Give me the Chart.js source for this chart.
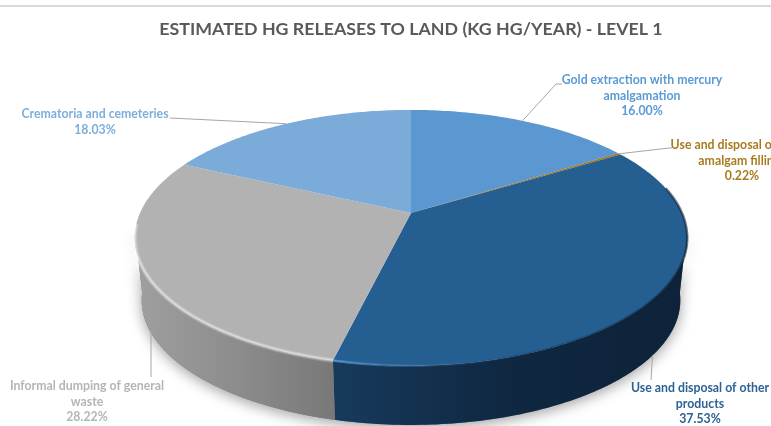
<!DOCTYPE html>
<html>
<head>
<meta charset="utf-8">
<title>Estimated Hg releases to land</title>
<script src="https://cdn.jsdelivr.net/npm/chart.js@4"></script>
<style>
    html, body { margin: 0; padding: 0; background: #fff; overflow: hidden; }
    canvas { display: block; }
</style>
</head>
<body>
<canvas id="landChart" width="771" height="426"></canvas>
<script>
// Slices run clockwise from twelve o'clock
const categories = [
    "Gold extraction with mercury amalgamation",
    "Use and disposal of dental amalgam fillings",
    "Use and disposal of other products",
    "Informal dumping of general waste",
    "Crematoria and cemeteries"
];
const shares = [16.00, 0.22, 37.53, 28.22, 18.03];
const titleText = "ESTIMATED HG RELEASES TO LAND (KG HG/YEAR) - LEVEL 1";

const topColours = ["#5b97d1", "#a5761a", "#255e91", "#b2b2b2", "#7aabd9"];
const sideColours = [null, null, ["#173a5c", "#0f2741", "#0e2339"], ["#9e9e9e", "#8c8c8c", "#787878"], null];
const textColours = ["#5b9bd5", "#a87c1e", "#2d6297", "#b5b5b5", "#7cafdd"];

const labelLines = [
    ["Gold extraction with mercury", "amalgamation"],
    ["Use and disposal of dental", "amalgam fillings"],
    ["Use and disposal of other", "products"],
    ["Informal dumping of general", "waste"],
    ["Crematoria and cemeteries"]
];
const labelCentreX = [642, 742, 700, 87, 95];
const labelFirstY = [80, 145, 388, 386, 114];

// leader bend points, the slice end of each leader comes from the slice itself
const leaderBends = [
    [[556, 84], [562, 84]],
    [[669, 148], [672, 148]],
    [[651, 380]],
    [[151, 377]],
    [[170, 118]]
];
const leaderOnBase = [false, false, true, true, false];

// perspective of the tilted disc
const TILT = 0.195;
const SPREAD_X = 1.667;
const SPREAD_Y = 0.757;
const DEPTH = 0.388;
const BASE_SCALE = 0.975;

const SIDE_FROM = 8 * Math.PI / 180;
const SIDE_TO = 172 * Math.PI / 180;

function project(arc, angle, onBase) {
    const v = -Math.sin(angle);
    const w = 1 + TILT * v;
    const scale = onBase ? BASE_SCALE : 1;
    const drop = onBase ? arc.outerRadius * DEPTH : 0;
    return {
        x: arc.x + arc.outerRadius * SPREAD_X * scale * Math.cos(angle) / w,
        y: arc.y + drop - arc.outerRadius * SPREAD_Y * scale * v / w
    };
}

function traceRim(ctx, arc, from, to, onBase) {
    const steps = Math.max(2, Math.ceil(Math.abs(to - from) * 60));
    for (let i = 0; i <= steps; i++) {
        const p = project(arc, from + (to - from) * i / steps, onBase);
        ctx.lineTo(p.x, p.y);
    }
}

function sidePath(ctx, arc, from, to) {
    ctx.beginPath();
    traceRim(ctx, arc, from, to, false);
    traceRim(ctx, arc, to, from, true);
    ctx.closePath();
}

const discPlugin = {
    id: "disc",

    beforeDraw(chart) {
        const ctx = chart.ctx;
        ctx.save();
        ctx.fillStyle = "#ffffff";
        ctx.fillRect(0, 0, chart.width, chart.height);
        ctx.fillStyle = "#d9d9d9";
        ctx.fillRect(0, 5, chart.width, 2);
        ctx.restore();
    },

    // the arcs are drawn here instead of by the controller, returning false skips the flat pie
    beforeDatasetsDraw(chart) {
        const ctx = chart.ctx;
        const arcs = chart.getDatasetMeta(0).data;
        const first = arcs[0];

        ctx.save();

        // soft shadow under the whole body
        ctx.shadowColor = "rgba(0,0,0,0.38)";
        ctx.shadowBlur = 14;
        ctx.shadowOffsetY = 3;
        ctx.fillStyle = "#777777";
        sidePath(ctx, first, SIDE_FROM, SIDE_TO);
        ctx.fill();
        ctx.shadowColor = "transparent";

        arcs.forEach((arc, i) => {
            const stops = sideColours[i];
            const from = Math.max(arc.startAngle, SIDE_FROM);
            const to = Math.min(arc.endAngle, SIDE_TO);
            if (!stops || to <= from) return;
            const a = project(arc, from, true).x;
            const b = project(arc, to, true).x;
            const gradient = ctx.createLinearGradient(Math.min(a, b), 0, Math.max(a, b), 0);
            stops.forEach((c, n) => gradient.addColorStop(n / (stops.length - 1), c));
            ctx.fillStyle = gradient;
            sidePath(ctx, arc, from, to);
            ctx.fill();
        });

        // top face
        arcs.forEach(arc => {
            ctx.beginPath();
            ctx.moveTo(arc.x, arc.y);
            traceRim(ctx, arc, arc.startAngle, arc.endAngle, false);
            ctx.closePath();
            ctx.fillStyle = arc.options.backgroundColor;
            ctx.fill();
        });

        // bevel along the front rim
        const grey = arcs[3];
        const greyTo = Math.min(grey.endAngle, SIDE_TO + 0.05);
        [[5, "rgba(255,255,255,0.16)"], [3, "rgba(255,255,255,0.26)"], [1.5, "rgba(255,255,255,0.30)"]].forEach(([width, colour]) => {
            ctx.beginPath();
            traceRim(ctx, grey, grey.startAngle, greyTo, false);
            ctx.lineWidth = width;
            ctx.strokeStyle = colour;
            ctx.stroke();
        });

        const dark = arcs[2];
        const shine = ctx.createLinearGradient(335, 0, 690, 0);
        shine.addColorStop(0, "rgba(96,155,215,0.75)");
        shine.addColorStop(0.3, "rgba(70,125,180,0.20)");
        shine.addColorStop(0.55, "rgba(10,30,50,0.25)");
        shine.addColorStop(1, "rgba(10,30,50,0.60)");
        ctx.beginPath();
        traceRim(ctx, dark, Math.max(dark.startAngle, SIDE_FROM - 0.35), dark.endAngle, false);
        ctx.lineWidth = 2.5;
        ctx.strokeStyle = shine;
        ctx.stroke();

        ctx.restore();
        return false;
    },

    // afterDatasetsDraw does not fire once the datasets are skipped
    afterDraw(chart) {
        const ctx = chart.ctx;
        const arcs = chart.getDatasetMeta(0).data;

        ctx.save();
        arcs.forEach((arc, i) => {
            const mid = (arc.startAngle + arc.endAngle) / 2;
            const anchor = project(arc, mid, leaderOnBase[i]);

            ctx.beginPath();
            ctx.moveTo(anchor.x, anchor.y);
            leaderBends[i].forEach(p => ctx.lineTo(p[0], p[1]));
            ctx.lineWidth = 1;
            ctx.strokeStyle = "#a6a6a6";
            ctx.stroke();

            const lines = labelLines[i].concat(shares[i].toFixed(2) + "%");
            ctx.font = "bold 12.3px Lato";
            ctx.fillStyle = textColours[i];
            ctx.textAlign = "center";
            ctx.textBaseline = "middle";
            lines.forEach((line, n) => {
                ctx.fillText(line, labelCentreX[i], labelFirstY[i] + n * 15.7);
            });
        });
        ctx.restore();
    }
};

const chart = new Chart(document.getElementById("landChart").getContext("2d"), {
    type: "pie",
    data: {
        labels: categories,
        datasets: [{
            data: shares,
            backgroundColor: topColours,
            borderWidth: 0
        }]
    },
    options: {
        responsive: false,
        animation: false,
        layout: {
            padding: { left: 51, right: 0, top: 19, bottom: 50.6 }
        },
        plugins: {
            legend: { display: false },
            tooltip: { enabled: false },
            title: {
                display: true,
                text: titleText,
                fullSize: false,
                color: "#595959",
                font: { family: "Lato", size: 17.8, weight: "bold", lineHeight: 1.2 },
                padding: { top: 0, bottom: 10 }
            }
        }
    },
    plugins: [discPlugin]
});
</script>
</body>
</html>
